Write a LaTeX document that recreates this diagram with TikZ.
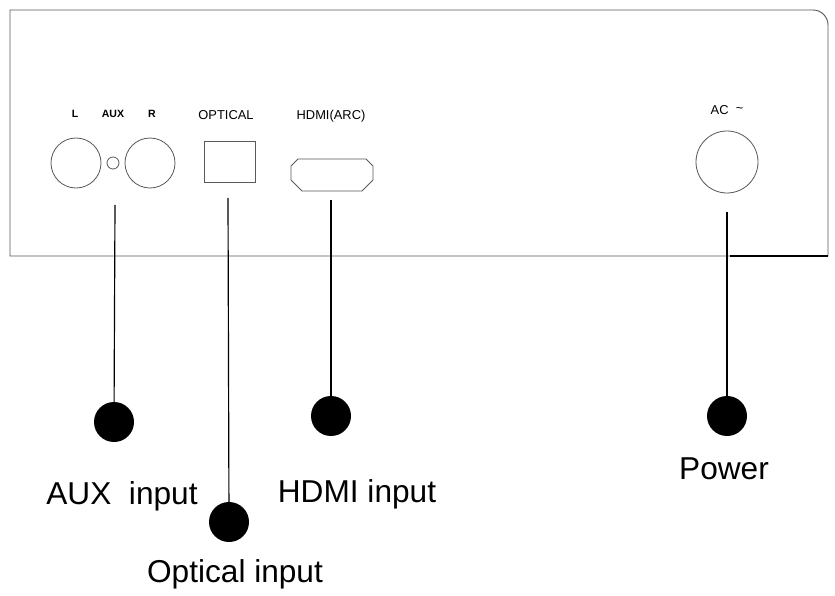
\documentclass[tikz,border=0pt]{standalone}
\usepackage{fontspec}
\setmainfont{Liberation Sans}
\begin{document}
\begin{tikzpicture}[x=0.03cm,y=-0.03cm,
    jack/.style={draw=gray!70!black,circle,inner sep=0pt,line width=0.7pt},
    dot/.style={fill=black,circle,minimum size=1.2cm,inner sep=0pt},
    lead/.style={line width=1pt},
    tag/.style={font=\fontsize{11}{13}\selectfont},
    caption/.style={font=\fontsize{27}{30}\selectfont}]
  \useasboundingbox (0,0) rectangle (835,596);
  % panel
  \draw [gray!70!black,line width=0.8pt] (10,256) -- (10,10) [rounded corners=0.45cm] -- (828,10) [sharp corners] -- (828,256) -- cycle;
  \draw [line width=1.4pt] (730,256) -- (828,256);
  % jacks
  \node [jack,minimum size=1.5cm] (jl) at (76,163) {};
  \node [jack,minimum size=0.36cm] (jaux) at (113,163) {};
  \node [jack,minimum size=1.5cm] (jr) at (150,163) {};
  \node [tag,font=\bfseries\fontsize{9}{11}\selectfont] at (75,114) {L};
  \node [tag,font=\bfseries\fontsize{9}{11}\selectfont] at (113,114) {AUX};
  \node [tag,font=\bfseries\fontsize{9}{11}\selectfont] at (152,114) {R};
  \node [draw=gray!70!black,line width=0.7pt,minimum width=1.53cm,minimum height=1.23cm] (jopt) at (230,162) {};
  \node [tag] at (226,115) {OPTICAL};
  \draw [gray!70!black,line width=0.7pt] (298,159) -- (366,159) -- (373,166) -- (373,180) -- (362,191)
    -- (302,191) -- (291,180) -- (291,166) -- cycle;
  \node [tag] at (331,116) {HDMI(ARC)};
  \node [jack,minimum size=1.86cm] (jac) at (727,162) {};
  \node [tag] at (727,110) {AC\ \ \raisebox{0.3ex}{\textasciitilde}};
  % leads
  \coordinate (saux) at (115,205);
  \coordinate (sopt) at (228,198);
  \coordinate (shdmi) at (331,200);
  \coordinate (sac) at (727,212);
  \node [dot] (daux) at (114,422) {};
  \node [dot] (dopt) at (229,522) {};
  \node [dot] (dhdmi) at (331,416) {};
  \node [dot] (dac) at (727,416) {};
  \draw [lead] (saux) -- (daux);
  \draw [lead] (sopt) -- (dopt);
  \draw [lead] (shdmi) -- (dhdmi);
  \draw [lead] (sac) -- (dac);
  \node [caption] at (122,496) {AUX\ \ input};
  \node [caption] at (235,574) {Optical input};
  \node [caption] at (357,494) {HDMI input};
  \node [caption] at (724,469) {Power};
\end{tikzpicture}
\end{document}
